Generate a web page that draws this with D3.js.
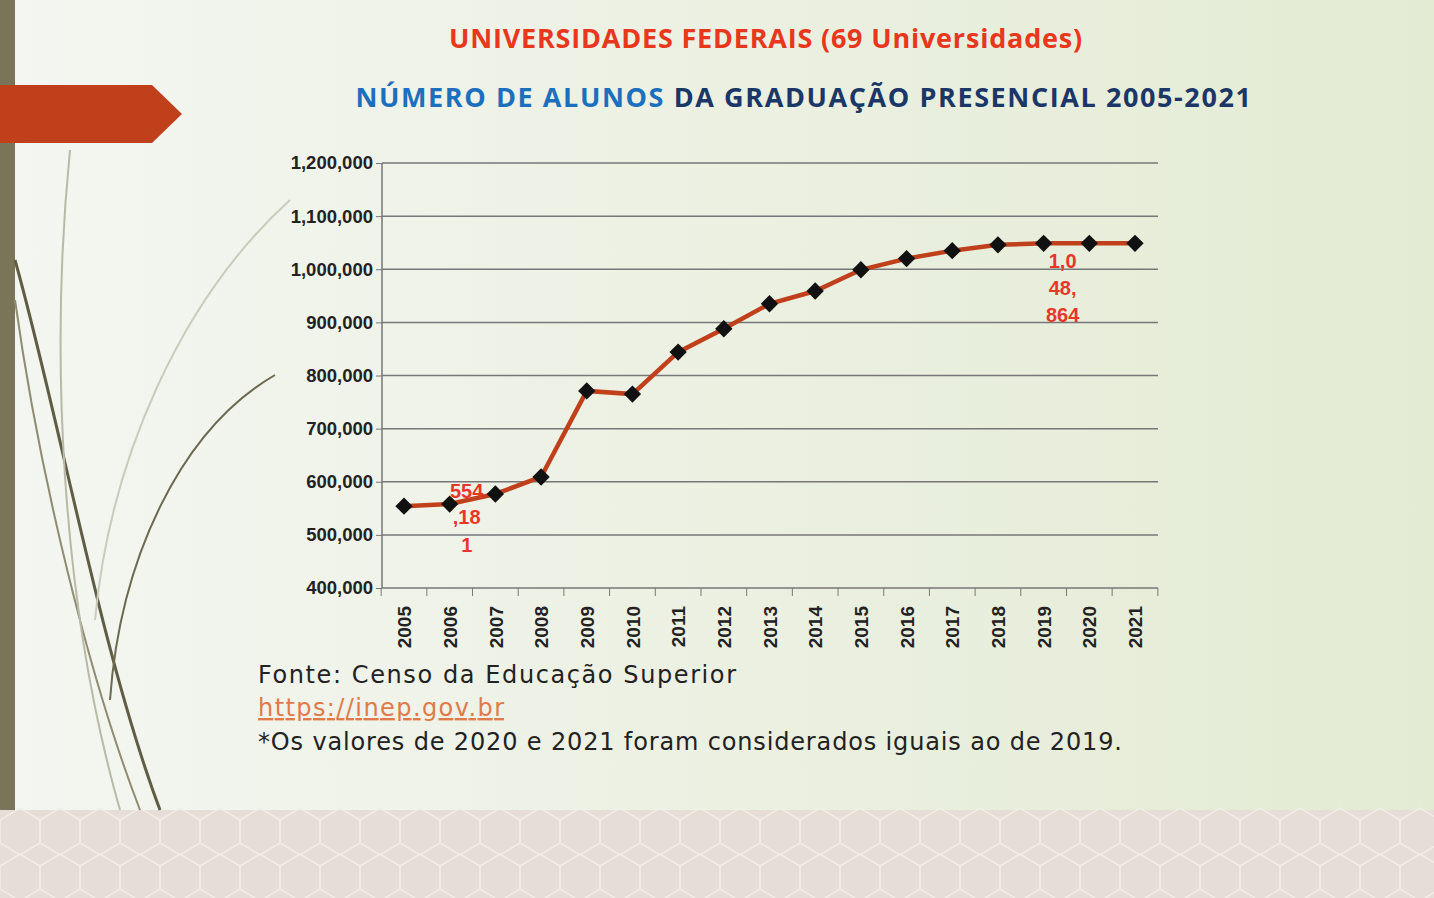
<!DOCTYPE html>
<html><head><meta charset="utf-8">
<script src="https://cdn.jsdelivr.net/npm/d3@7"></script>
<style>body{margin:0;overflow:hidden}</style>
</head><body>
<svg id="chart" width="1434" height="898"></svg>
<script>
const years = ["2005","2006","2007","2008","2009","2010","2011","2012","2013","2014","2015","2016","2017","2018","2019","2020","2021"];
const alunos = [554000,558000,577000,609000,771000,765000,844000,888000,935000,959000,999000,1020000,1035000,1046000,1048864,1048864,1048864];
const yTicks = [400000,500000,600000,700000,800000,900000,1000000,1100000,1200000];

const svg = d3.select("#chart");
const defs = svg.append("defs");
const bg = defs.append("linearGradient").attr("id","bg").attr("x1","0").attr("x2","1").attr("y1","0").attr("y2","0");
bg.append("stop").attr("offset","0").attr("stop-color","#f4f6f1");
bg.append("stop").attr("offset","1").attr("stop-color","#e3ebd3");
svg.append("rect").attr("width",1434).attr("height",898).attr("fill","url(#bg)");

// bottom band
svg.append("rect").attr("y",810).attr("width",1434).attr("height",88).attr("fill","#e6ddd6");
const hex = svg.append("g").attr("stroke","#f3ede8").attr("fill","none").attr("stroke-width",1.5);
for (let x = 0; x < 1434; x += 40) for (let y = 820; y < 898; y += 46) {
  hex.append("path").attr("d",`M${x},${y} l20,-12 l20,12 l0,23 l-20,12 l-20,-12 Z`);
}
// left bar + decorative curves
svg.append("rect").attr("width",15).attr("height",810).attr("fill","#7a7459");
const deco = svg.append("g").attr("fill","none");
deco.append("path").attr("d","M15,260 C60,420 100,650 160,810").attr("stroke","#5f5e44").attr("stroke-width",3);
deco.append("path").attr("d","M15,300 C40,480 90,680 140,810").attr("stroke","#8f8c72").attr("stroke-width",2);
deco.append("path").attr("d","M70,150 C50,350 60,600 120,810").attr("stroke","#b8b9a6").attr("stroke-width",2);
deco.append("path").attr("d","M275,375 C180,430 120,560 110,700").attr("stroke","#6b6a50").attr("stroke-width",2);
deco.append("path").attr("d","M290,200 C180,300 110,460 95,620").attr("stroke","#c9cbbb").attr("stroke-width",2);
// red arrow
svg.append("path").attr("d","M0,85 L152,85 L182,114 L152,143 L0,143 Z").attr("fill","#c0401b");

// titles
svg.append("text").attr("x",766).attr("y",48).attr("text-anchor","middle")
  .attr("font-family","Open Sans").attr("font-weight",700).attr("font-size",27).attr("letter-spacing",0.8).attr("fill","#e8371c")
  .text("UNIVERSIDADES FEDERAIS (69 Universidades)");
const t2 = svg.append("text").attr("x",804).attr("y",107).attr("text-anchor","middle")
  .attr("font-family","Open Sans").attr("font-weight",700).attr("font-size",27).attr("letter-spacing",1.6);
t2.append("tspan").attr("fill","#1c6fbd").text("NÚMERO DE ALUNOS ");
t2.append("tspan").attr("fill","#1b3768").text("DA GRADUAÇÃO PRESENCIAL 2005-2021");

const x = d3.scalePoint().domain(years).range([404,1135]);
const y = d3.scaleLinear().domain([400000,1200000]).range([588,163]);

const grid = svg.append("g");
grid.selectAll("line").data(yTicks).join("line")
  .attr("x1",382).attr("x2",1158).attr("y1",d=>y(d)).attr("y2",d=>y(d))
  .attr("stroke","#777").attr("stroke-width",1.5);
svg.append("line").attr("x1",382).attr("x2",382).attr("y1",163).attr("y2",588).attr("stroke","#777").attr("stroke-width",1.5);

const yAxis = svg.append("g").attr("transform","translate(382,0)")
  .call(d3.axisLeft(y).tickValues(yTicks).tickFormat(d3.format(",")).tickSize(6));
yAxis.select(".domain").remove();
yAxis.selectAll("line").attr("stroke","#777");
yAxis.selectAll("text").attr("font-family","Liberation Sans").attr("font-weight",700).attr("font-size",18.5).attr("fill","#222");

const xAxis = svg.append("g").attr("transform","translate(0,588)")
  .call(d3.axisBottom(x).tickSize(0));
xAxis.select(".domain").remove();
xAxis.selectAll("text").attr("font-family","Liberation Sans").attr("font-weight",700).attr("font-size",19).attr("fill","#222")
  .attr("transform","rotate(-90)").attr("text-anchor","end").attr("dx","-18").attr("dy","0.35em")
  .attr("y",0).attr("x",0);
const step = x.step();
svg.append("g").selectAll("line").data(years.concat(["end"])).join("line")
  .attr("x1",(d,i)=>x(years[0])-step/2+i*step).attr("x2",(d,i)=>x(years[0])-step/2+i*step)
  .attr("y1",588).attr("y2",596).attr("stroke","#777");

const line = d3.line().x((d,i)=>x(years[i])).y(d=>y(d));
svg.append("path").datum(alunos).attr("d",line).attr("fill","none").attr("stroke","#c0401b").attr("stroke-width",4.5);
svg.append("g").selectAll("path").data(alunos).join("path")
  .attr("d",d3.symbol(d3.symbolSquare,150))
  .attr("transform",(d,i)=>`translate(${x(years[i])},${y(d)}) rotate(45)`).attr("fill","#111");

// data labels
const lab = svg.append("g").attr("font-family","Liberation Sans").attr("font-weight",700).attr("font-size",20).attr("fill","#e8372a").attr("text-anchor","middle");
[["554",498],[",18",524],["1",552]].forEach(([t,yy])=>lab.append("text").attr("x",x("2006")+17).attr("y",yy).text(t));
[["1,0",268],["48,",295],["864",322]].forEach(([t,yy])=>lab.append("text").attr("x",x("2019")+19).attr("y",yy).text(t));

// source
const src = svg.append("g").attr("font-family","DejaVu Sans").attr("font-size",24).attr("fill","#222");
src.append("text").attr("x",258).attr("y",683).attr("textLength",478).text("Fonte: Censo da Educação Superior");
src.append("text").attr("x",258).attr("y",716).attr("fill","#e07a4a").attr("text-decoration","underline").attr("textLength",246).text("https://inep.gov.br");
src.append("text").attr("x",258).attr("y",750).attr("textLength",864).text("*Os valores de 2020 e 2021 foram considerados iguais ao de 2019.");
</script>
</body></html>
